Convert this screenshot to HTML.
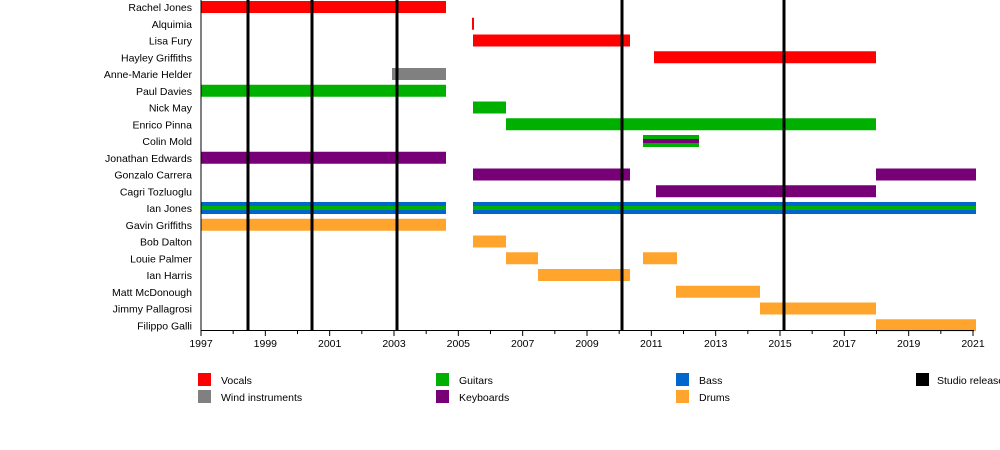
<!DOCTYPE html>
<html><head><meta charset="utf-8"><style>body{margin:0;background:#fff}svg{display:block}text{font-family:"Liberation Sans",sans-serif;font-size:10.5px;fill:#000}</style></head><body>
<svg width="1000" height="450" xmlns="http://www.w3.org/2000/svg">
<rect x="201" y="1" width="245" height="12" fill="#ff0000"/>
<rect x="472" y="17.75" width="2" height="12" fill="#ff0000"/>
<rect x="473" y="34.5" width="157" height="12" fill="#ff0000"/>
<rect x="654" y="51.25" width="222" height="12" fill="#ff0000"/>
<rect x="392" y="68" width="54" height="12" fill="#808080"/>
<rect x="201" y="84.75" width="245" height="12" fill="#00b000"/>
<rect x="473" y="101.5" width="33" height="12" fill="#00b000"/>
<rect x="506" y="118.25" width="370" height="12" fill="#00b000"/>
<rect x="643" y="135" width="56" height="12" fill="#00b000"/>
<rect x="643" y="139" width="56" height="4" fill="#770077"/>
<rect x="201" y="151.75" width="245" height="12" fill="#770077"/>
<rect x="473" y="168.5" width="157" height="12" fill="#770077"/>
<rect x="876" y="168.5" width="100" height="12" fill="#770077"/>
<rect x="656" y="185.25" width="220" height="12" fill="#770077"/>
<rect x="201" y="202" width="245" height="12" fill="#0066cc"/>
<rect x="473" y="202" width="503" height="12" fill="#0066cc"/>
<rect x="201" y="206" width="245" height="4" fill="#00b000"/>
<rect x="473" y="206" width="503" height="4" fill="#00b000"/>
<rect x="201" y="218.75" width="245" height="12" fill="#ffa52e"/>
<rect x="473" y="235.5" width="33" height="12" fill="#ffa52e"/>
<rect x="506" y="252.25" width="32" height="12" fill="#ffa52e"/>
<rect x="643" y="252.25" width="34" height="12" fill="#ffa52e"/>
<rect x="538" y="269" width="92" height="12" fill="#ffa52e"/>
<rect x="676" y="285.75" width="84" height="12" fill="#ffa52e"/>
<rect x="760" y="302.5" width="116" height="12" fill="#ffa52e"/>
<rect x="876" y="319.25" width="100" height="12" fill="#ffa52e"/>
<rect x="246.5" y="0" width="3" height="330" fill="#000"/>
<rect x="310.5" y="0" width="3" height="330" fill="#000"/>
<rect x="395.5" y="0" width="3" height="330" fill="#000"/>
<rect x="620.5" y="0" width="3" height="330" fill="#000"/>
<rect x="782.5" y="0" width="3" height="330" fill="#000"/>
<line x1="201" y1="0" x2="201" y2="330.5" stroke="#000"/>
<line x1="200.5" y1="330.5" x2="974" y2="330.5" stroke="#000"/>
<g stroke="#000">
<line x1="201" y1="330" x2="201" y2="336"/><line x1="233.17" y1="330" x2="233.17" y2="334"/>
<line x1="265.33" y1="330" x2="265.33" y2="336"/><line x1="297.5" y1="330" x2="297.5" y2="334"/>
<line x1="329.67" y1="330" x2="329.67" y2="336"/><line x1="361.83" y1="330" x2="361.83" y2="334"/>
<line x1="394" y1="330" x2="394" y2="336"/><line x1="426.17" y1="330" x2="426.17" y2="334"/>
<line x1="458.33" y1="330" x2="458.33" y2="336"/><line x1="490.5" y1="330" x2="490.5" y2="334"/>
<line x1="522.67" y1="330" x2="522.67" y2="336"/><line x1="554.83" y1="330" x2="554.83" y2="334"/>
<line x1="587" y1="330" x2="587" y2="336"/><line x1="619.17" y1="330" x2="619.17" y2="334"/>
<line x1="651.33" y1="330" x2="651.33" y2="336"/><line x1="683.5" y1="330" x2="683.5" y2="334"/>
<line x1="715.67" y1="330" x2="715.67" y2="336"/><line x1="747.83" y1="330" x2="747.83" y2="334"/>
<line x1="780" y1="330" x2="780" y2="336"/><line x1="812.17" y1="330" x2="812.17" y2="334"/>
<line x1="844.33" y1="330" x2="844.33" y2="336"/><line x1="876.5" y1="330" x2="876.5" y2="334"/>
<line x1="908.67" y1="330" x2="908.67" y2="336"/><line x1="940.83" y1="330" x2="940.83" y2="334"/>
<line x1="973" y1="330" x2="973" y2="336"/>
</g>
<g text-anchor="middle">
<text x="201" y="347">1997</text><text x="265.33" y="347">1999</text><text x="329.67" y="347">2001</text>
<text x="394" y="347">2003</text><text x="458.33" y="347">2005</text><text x="522.67" y="347">2007</text>
<text x="587" y="347">2009</text><text x="651.33" y="347">2011</text><text x="715.67" y="347">2013</text>
<text x="780" y="347">2015</text><text x="844.33" y="347">2017</text><text x="908.67" y="347">2019</text>
<text x="973" y="347">2021</text>
</g>
<g text-anchor="end">
<text x="192" y="11">Rachel Jones</text>
<text x="192" y="27.75">Alquimia</text>
<text x="192" y="44.5">Lisa Fury</text>
<text x="192" y="61.25">Hayley Griffiths</text>
<text x="192" y="78">Anne-Marie Helder</text>
<text x="192" y="94.75">Paul Davies</text>
<text x="192" y="111.5">Nick May</text>
<text x="192" y="128.25">Enrico Pinna</text>
<text x="192" y="145">Colin Mold</text>
<text x="192" y="161.75">Jonathan Edwards</text>
<text x="192" y="178.5">Gonzalo Carrera</text>
<text x="192" y="195.25">Cagri Tozluoglu</text>
<text x="192" y="212">Ian Jones</text>
<text x="192" y="228.75">Gavin Griffiths</text>
<text x="192" y="245.5">Bob Dalton</text>
<text x="192" y="262.25">Louie Palmer</text>
<text x="192" y="279">Ian Harris</text>
<text x="192" y="295.75">Matt McDonough</text>
<text x="192" y="312.5">Jimmy Pallagrosi</text>
<text x="192" y="329.25">Filippo Galli</text>
</g>
<rect x="198" y="373" width="13" height="13" fill="#ff0000"/><text x="221" y="384">Vocals</text>
<rect x="198" y="390" width="13" height="13" fill="#808080"/><text x="221" y="401">Wind instruments</text>
<rect x="436" y="373" width="13" height="13" fill="#00b000"/><text x="459" y="384">Guitars</text>
<rect x="436" y="390" width="13" height="13" fill="#770077"/><text x="459" y="401">Keyboards</text>
<rect x="676" y="373" width="13" height="13" fill="#0066cc"/><text x="699" y="384">Bass</text>
<rect x="676" y="390" width="13" height="13" fill="#ffa52e"/><text x="699" y="401">Drums</text>
<rect x="916" y="373" width="13" height="13" fill="#000"/><text x="937" y="384">Studio release</text>
</svg>
</body></html>
